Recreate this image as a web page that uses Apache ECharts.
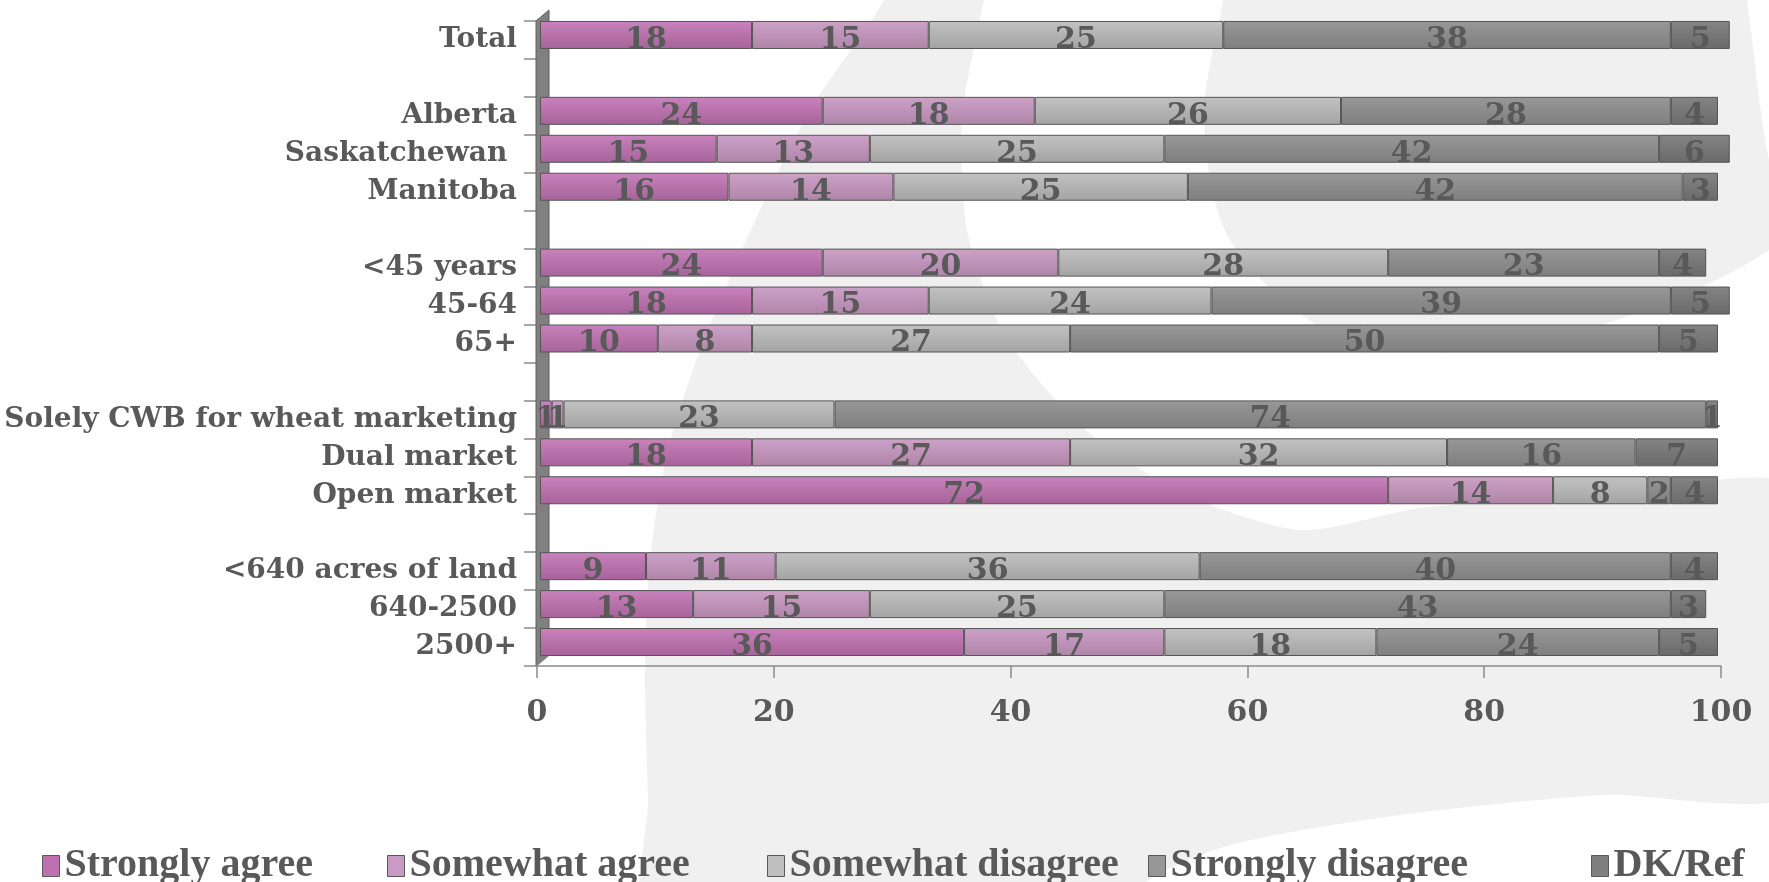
<!DOCTYPE html>
<html><head><meta charset="utf-8">
<script src="https://cdn.jsdelivr.net/npm/echarts@6/dist/echarts.min.js"></script>
<style>html,body{margin:0;padding:0;background:#fff}#c{width:1769px;height:882px}</style>
</head><body><div id="c"></div>
<script>
const categories = ['Total',' ','Alberta','Saskatchewan ','Manitoba','  ','<45 years','45-64','65+','   ','Solely CWB for wheat marketing','Dual market','Open market','    ','<640 acres of land','640-2500','2500+'];
const seriesNames = ['Strongly agree','Somewhat agree','Somewhat disagree','Strongly disagree','DK/Ref'];
const stronglyAgree    = [18,null,24,15,16,null,24,18,10,null,1,18,72,null,9,13,36];
const somewhatAgree    = [15,null,18,13,14,null,20,15,8,null,1,27,14,null,11,15,17];
const somewhatDisagree = [25,null,26,25,25,null,28,24,27,null,23,32,8,null,36,25,18];
const stronglyDisagree = [38,null,28,42,42,null,23,39,50,null,74,16,2,null,40,43,24];
const dkRef            = [5,null,4,6,3,null,4,5,5,null,1,7,4,null,4,3,5];
const xTickLabels = ['0','20','40','60','80','100'];

const seriesData = [stronglyAgree, somewhatAgree, somewhatDisagree, stronglyDisagree, dkRef];
const grads = [
  ['#c983bd','#b772aa','#a6649a'],
  ['#cca2c7','#bf93b9','#ad85a6'],
  ['#c2c2c2','#b3b3b3','#a3a3a3'],
  ['#989898','#8b8b8b','#7f7f7f'],
  ['#848484','#777777','#6a6a6a']
];
const legendColors = ['#c070b0','#c99ac3','#c0c0c0','#969696','#7f7f7f'];
const legendLefts = [37, 382, 762, 1143, 1586];

const serif = '"DejaVu Serif", serif';
const txt = '#595959';

const chart = echarts.init(document.getElementById('c'), null, {renderer:'canvas'});

const series = seriesNames.map((n, i) => ({
  name: n, type: 'bar', stack: 'all', xAxisIndex: 0, yAxisIndex: 0,
  barWidth: 28, clip: false,
  data: seriesData[i],
  itemStyle: {
    color: {type: 'linear', x: 0, y: 0, x2: 0, y2: 1, colorStops: [
      {offset:0,color:grads[i][0]},{offset:0.5,color:grads[i][1]},{offset:1,color:grads[i][2]}]},
    borderColor: '#555555', borderWidth: 1
  },
  label: {
    show: true, position: 'inside', color: txt,
    fontFamily: serif, fontWeight: 'bold', fontSize: 30, offset: [0, 5],
    formatter: p => (p.value == null ? '' : String(p.value))
  },
  emphasis: {disabled: true}
}));

const legends = seriesNames.map((n, i) => ({
  left: legendLefts[i], top: 839,
  data: [{name: n, itemStyle: {color: legendColors[i], borderColor: '#595959', borderWidth: 1}}],
  icon: 'rect', itemWidth: 17, itemHeight: 21, itemGap: 6,
  textStyle: {fontFamily: '"Liberation Serif", serif', fontWeight: 'bold', fontSize: 40, color: txt, lineHeight: 44},
  selectedMode: false
}));

const bgC = [[895,-40],[884,0],[810,110],[753,225],[700,350],[668,450],[650,560],[645,675],[648,800],[650,930],[1120,930],[1146,882],[1230,845],[1400,815],[1600,795],[1800,790],[1800,490],[1600,495],[1420,508],[1300,530],[1180,492],[1080,425],[1005,335],[968,235],[962,120],[984,0],[995,-40]];
const bgO = [[1230,-40],[1223,0],[1204,120],[1230,240],[1331,333],[1460,352],[1617,320],[1769,250],[1790,200],[1769,160],[1747,0],[1740,-40]];

const option = {
  backgroundColor: '#ffffff',
  animation: false,
  grid: [
    {left: 540, right: 51, top: 16, height: 645},
    {left: 537, right: 48, top: 21, height: 645}
  ],
  xAxis: [
    {gridIndex: 0, type: 'value', min: 0, max: 100, show: false},
    {gridIndex: 1, type: 'value', min: 0, max: 100, interval: 20,
     axisLine: {show: true, lineStyle: {color: '#8a8a8a', width: 1.5}},
     axisTick: {show: true, length: 12, inside: false, lineStyle: {color: '#8a8a8a', width: 1.5}},
     splitLine: {show: false},
     axisLabel: {margin: 32, color: txt, fontFamily: serif, fontWeight: 'bold', fontSize: 30,
       formatter: v => xTickLabels[Math.round(v / 20)]}}
  ],
  yAxis: [
    {gridIndex: 0, type: 'category', inverse: true, data: categories, show: false},
    {gridIndex: 1, type: 'category', inverse: true, data: categories,
     axisLine: {show: false},
     axisTick: {show: true, length: 13, lineStyle: {color: '#8a8a8a', width: 1.5}},
     axisLabel: {margin: 20, color: txt, fontFamily: serif, fontWeight: 'bold', fontSize: 28}}
  ],
  legend: legends,
  graphic: {elements: [
    {type: 'polygon', z: -100, silent: true, shape: {smooth: 0.25, points: bgC}, style: {fill: '#f0f0f0'}},
    {type: 'polygon', z: -100, silent: true, shape: {smooth: 0.3, points: bgO}, style: {fill: '#f0f0f0'}},
    {type: 'polygon', z: 1, silent: true,
     shape: {points: [[536,21],[549,10],[549,655],[536,666]]},
     style: {fill: '#808080', stroke: '#5e5e5e', lineWidth: 1}},
    {type: 'line', z: 1, silent: true,
     shape: {x1: 536, y1: 666, x2: 549, y2: 655},
     style: {stroke: '#8a8a8a', lineWidth: 1.5}}
  ]},
  series: series
};
chart.setOption(option);
</script>
</body></html>
